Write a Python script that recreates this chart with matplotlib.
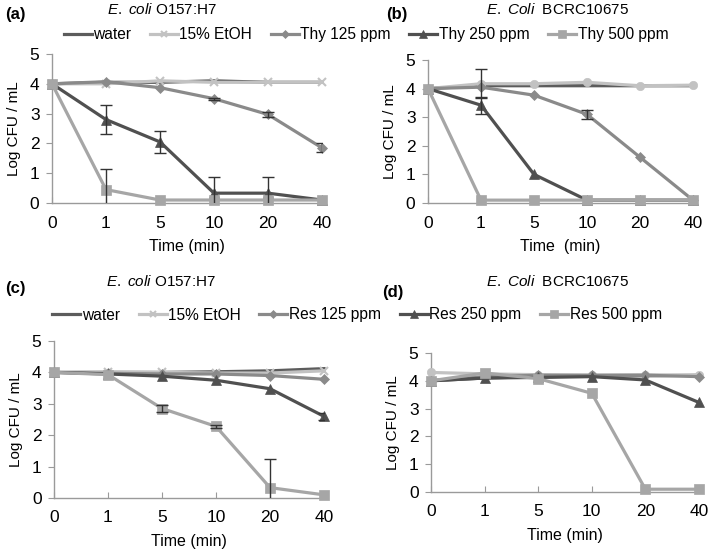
import matplotlib
matplotlib.use("Agg")
import matplotlib.pyplot as plt
import numpy as np

plt.rcParams['font.family'] = ['Liberation Sans', 'DejaVu Sans']
plt.rcParams['mathtext.fontset'] = 'custom'
plt.rcParams['mathtext.it'] = 'Liberation Sans:italic'
plt.rcParams['mathtext.rm'] = 'Liberation Sans'

time_labels = ["0", "1", "5", "10", "20", "40"]

# Panel (a): E. coli O157:H7, thymol
a_water = [4.0, 4.05, 4.05, 4.1, 4.05, 4.05]
a_etoh = [4.0, 4.0, 4.1, 4.05, 4.05, 4.05]
a_125 = [4.0, 4.07, 3.87, 3.5, 2.97, 1.85]
a_250 = [4.0, 2.8, 2.05, 0.33, 0.33, 0.1]
a_500 = [4.0, 0.45, 0.1, 0.1, 0.1, 0.1]
a_125_err = [0, 0, 0, 0.04, 0.08, 0.15]
a_250_err = [0, 0.5, 0.37, 0.55, 0.55, 0]
a_500_err = [0, 0.7, 0, 0, 0, 0]

# Panel (b): E. Coli BCRC10675, thymol
b_water = [4.0, 4.1, 4.1, 4.1, 4.1, 4.1]
b_etoh = [4.0, 4.17, 4.17, 4.22, 4.1, 4.12]
b_125 = [4.0, 4.05, 3.77, 3.1, 1.6, 0.1]
b_250 = [4.0, 3.42, 1.0, 0.1, 0.1, 0.1]
b_500 = [4.0, 0.1, 0.1, 0.1, 0.1, 0.1]
b_etoh_err = [0, 0.5, 0, 0, 0, 0]
b_125_err = [0, 0, 0, 0.15, 0, 0]
b_250_err = [0, 0.3, 0, 0, 0, 0]

# Panel (c): E. coli O157:H7, resveratrol
c_water = [4.0, 4.0, 4.0, 4.02, 4.05, 4.12]
c_etoh = [4.0, 4.02, 4.0, 3.98, 3.98, 4.05]
c_125 = [4.0, 3.97, 3.95, 3.95, 3.9, 3.78]
c_250 = [4.0, 3.95, 3.88, 3.75, 3.48, 2.6]
c_500 = [4.0, 3.93, 2.85, 2.28, 0.33, 0.1]
c_250_err = [0, 0, 0, 0, 0, 0.1]
c_500_err = [0, 0, 0.12, 0.05, 0.9, 0]

# Panel (d): E. Coli BCRC10675, resveratrol
d_water = [4.0, 4.1, 4.15, 4.17, 4.18, 4.2]
d_etoh = [4.3, 4.25, 4.22, 4.2, 4.22, 4.2]
d_125 = [4.0, 4.15, 4.2, 4.2, 4.2, 4.15]
d_250 = [4.0, 4.1, 4.12, 4.15, 4.03, 3.22]
d_500 = [4.0, 4.28, 4.08, 3.55, 0.1, 0.1]

thy_names = ["water", "15% EtOH", "Thy 125 ppm", "Thy 250 ppm", "Thy 500 ppm"]
res_names = ["water", "15% EtOH", "Res 125 ppm", "Res 250 ppm", "Res 500 ppm"]

colors = ["#5c5c5c", "#c2c2c2", "#8a8a8a", "#505050", "#a6a6a6"]
markers_ac = [None, "x", "D", "^", "s"]
markers_bd = [None, "o", "D", "^", "s"]
msizes = [0, 6, 5, 6.5, 6.5]

W, H = 709, 551
fig = plt.figure(figsize=(W / 100, H / 100), dpi=100)

def rect(l, r, t, b):
    return [l / W, 1 - b / H, (r - l) / W, (b - t) / H]

def draw(ax, series, errs, markers, xlabel):
    x = np.arange(len(time_labels))
    handles = []
    for i, ys in enumerate(series):
        h, = ax.plot(x, ys, color=colors[i], lw=2.3, marker=markers[i],
                     ms=msizes[i], mew=1.5 if markers[i] == "x" else 0.5,
                     mec=colors[i], clip_on=False, zorder=3 + i)
        handles.append(h)
        if errs[i] is not None:
            e = np.array(errs[i])
            m = e > 0
            ax.errorbar(x[m], np.array(ys)[m], yerr=e[m], fmt="none",
                        ecolor="#333333", elinewidth=1.0, capsize=4,
                        capthick=1.0, zorder=10)
    ax.set_xlim(0, 5)
    ax.set_ylim(0, 5)
    ax.set_xticks(x)
    ax.set_xticklabels(time_labels)
    ax.set_yticks(range(6))
    for s in ["top", "right"]:
        ax.spines[s].set_visible(False)
    for s in ["left", "bottom"]:
        ax.spines[s].set_color("#9a9a9a")
        ax.spines[s].set_linewidth(1.0)
    ax.tick_params(axis="y", direction="out", length=4, color="#9a9a9a",
                   labelsize=12.5, pad=5)
    ax.tick_params(axis="x", direction="in", length=4, color="#9a9a9a",
                   labelsize=12.5, pad=9)
    ax.set_ylabel("Log CFU / mL", fontsize=11, labelpad=6)
    ax.set_xlabel(xlabel, fontsize=11.5, labelpad=6)
    return handles

ax_a = fig.add_axes(rect(52, 322, 54, 203))
ha = draw(ax_a, [a_water, a_etoh, a_125, a_250, a_500],
          [None, None, a_125_err, a_250_err, a_500_err], markers_ac, "Time (min)")
ax_b = fig.add_axes(rect(428, 693, 60, 203))
draw(ax_b, [b_water, b_etoh, b_125, b_250, b_500],
     [None, b_etoh_err, b_125_err, b_250_err, None], markers_bd, "Time  (min)")
ax_c = fig.add_axes(rect(54, 324, 341, 498))
hc = draw(ax_c, [c_water, c_etoh, c_125, c_250, c_500],
          [None, None, None, c_250_err, c_500_err], markers_ac, "Time (min)")
ax_d = fig.add_axes(rect(431, 699, 353, 492))
draw(ax_d, [d_water, d_etoh, d_125, d_250, d_500],
     [None, None, None, None, None], markers_bd, "Time (min)")

leg_kw = dict(ncol=5, loc="center", frameon=False, fontsize=11.2,
              handlelength=1.8, handletextpad=0.1, columnspacing=1.2,
              markerscale=0.8)
fig.legend(ha, thy_names, bbox_to_anchor=(366 / W, 1 - 35 / H), **leg_kw)
fig.legend(hc, res_names, bbox_to_anchor=(357 / W, 1 - 315 / H), **leg_kw)

lab_kw = dict(fontsize=12, fontweight="bold", ha="left", va="center")
fig.text(5 / W, 1 - 15 / H, "(a)", **lab_kw)
fig.text(386 / W, 1 - 15 / H, "(b)", **lab_kw)
fig.text(5 / W, 1 - 289 / H, "(c)", **lab_kw)
fig.text(382 / W, 1 - 292 / H, "(d)", **lab_kw)

t_kw = dict(fontsize=11, ha="center", va="center")
fig.text(162 / W, 1 - 10 / H, r"$\mathit{E.\ coli}$ O157:H7", **t_kw)
fig.text(557 / W, 1 - 10 / H, r"$\mathit{E.\ Coli}$  BCRC10675", **t_kw)
fig.text(161 / W, 1 - 281 / H, r"$\mathit{E.\ coli}$ O157:H7", **t_kw)
fig.text(557 / W, 1 - 281 / H, r"$\mathit{E.\ Coli}$  BCRC10675", **t_kw)

fig.savefig("out.png", dpi=100)
